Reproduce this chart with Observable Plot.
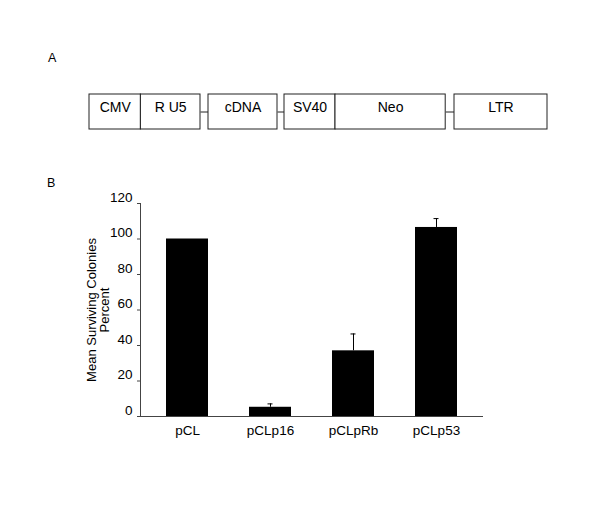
<!DOCTYPE html>
<html>
<head>
<meta charset="utf-8">
<script src="https://cdn.jsdelivr.net/npm/d3@7"></script>
<script src="https://cdn.jsdelivr.net/npm/@observablehq/plot@0.6"></script>
<style>
  html, body { margin: 0; padding: 0; background: white; }
  #wrap { position: relative; width: 600px; height: 532px; font-family: "Liberation Sans", Arial, sans-serif; color: black; }
  .panel { position: absolute; font-size: 12.5px; line-height: 12px; }
  #plotA, #plotB { position: absolute; left: 0; }
  #plotA { top: 0; }
  #plotB { top: 150px; }
</style>
</head>
<body>
<div id="wrap">
  <div id="plotA"></div>
  <div id="plotB"></div>
  <span class="panel" style="left:48px; top:52px;">A</span>
  <span class="panel" style="left:47px; top:177px;">B</span>
</div>
<script>
// ---- Panel A: vector map ----
const partNames = ["CMV", "R U5", "cDNA", "SV40", "Neo", "LTR"];
const partStart = [0, 51.4, 119, 195, 246, 365];
const partEnd   = [51.4, 111, 188, 246, 356.2, 458];
const linkStart = [111, 188, 356.2];
const linkEnd   = [119, 195, 365];

// ---- Panel B: bar chart ----
const categories = ["pCL", "pCLp16", "pCLpRb", "pCLp53"];
const means  = [100, 5.2, 37, 106.5];
const errors = [0, 1.9, 9.5, 5];
const yTicks = [0, 20, 40, 60, 80, 100, 120];

const FONT = "Liberation Sans, Arial, sans-serif";

const parts = partNames.map((name, i) => ({name, start: partStart[i], end: partEnd[i]}));
const links = linkStart.map((s, i) => ({start: s, end: linkEnd[i]}));

const plotA = Plot.plot({
  width: 600,
  height: 150,
  marginLeft: 89,
  marginRight: 53,
  marginTop: 94,
  marginBottom: 21,
  x: {domain: [0, 458], axis: null},
  y: {domain: [0, 1], axis: null},
  style: {fontFamily: FONT, fontSize: "14px", color: "black", background: "white"},
  marks: [
    Plot.link(links, {x1: "start", x2: "end", y1: 0.5, y2: 0.5, stroke: "#222", strokeWidth: 1}),
    Plot.rect(parts, {x1: "start", x2: "end", y1: 0, y2: 1, fill: "white", stroke: "#222", strokeWidth: 1}),
    Plot.text(parts, {x: d => (d.start + d.end) / 2, y: 0.5, text: "name", fontSize: 14, dy: -4, fill: "black"})
  ]
});
document.getElementById("plotA").appendChild(plotA);

const rows = categories.map((c, i) => ({cat: c, mean: means[i], err: errors[i]}));
const errRows = rows.filter(d => d.err > 0);

const plotB = Plot.plot({
  width: 600,
  height: 320,
  marginLeft: 140,
  marginRight: 118,
  marginTop: 53,
  marginBottom: 54,
  x: {domain: categories, paddingInner: 0.5, paddingOuter: 0.31, label: null},
  y: {domain: [0, 120], label: null},
  style: {fontFamily: FONT, fontSize: "13px", color: "black", background: "white"},
  marks: [
    Plot.barY(rows, {x: "cat", y: "mean", fill: "black"}),
    Plot.ruleX(errRows, {x: "cat", y1: "mean", y2: d => d.mean + d.err, stroke: "black", strokeWidth: 1}),
    Plot.tickY(errRows, {x: "cat", y: d => d.mean + d.err, stroke: "black", strokeWidth: 1, insetLeft: 18.5, insetRight: 18.5}),
    Plot.frame({anchor: "left", stroke: "#444"}),
    Plot.frame({anchor: "bottom", stroke: "#444"}),
    Plot.axisY({ticks: yTicks, tickSize: 3, fill: "none", stroke: "#444", label: null}),
    Plot.axisY({ticks: yTicks, tickSize: 3, tickPadding: 5, stroke: "none", dy: -6, fontSize: 13.5, label: null}),
    Plot.axisX({tickSize: 0, tickPadding: 9, fontSize: 13.5, label: null}),
    Plot.text(["Mean Surviving Colonies\nPercent"], {frameAnchor: "left", rotate: -90, dx: -42, lineAnchor: "middle", textAnchor: "middle", lineHeight: 1, fontSize: 13})
  ]
});
document.getElementById("plotB").appendChild(plotB);
</script>
</body>
</html>
